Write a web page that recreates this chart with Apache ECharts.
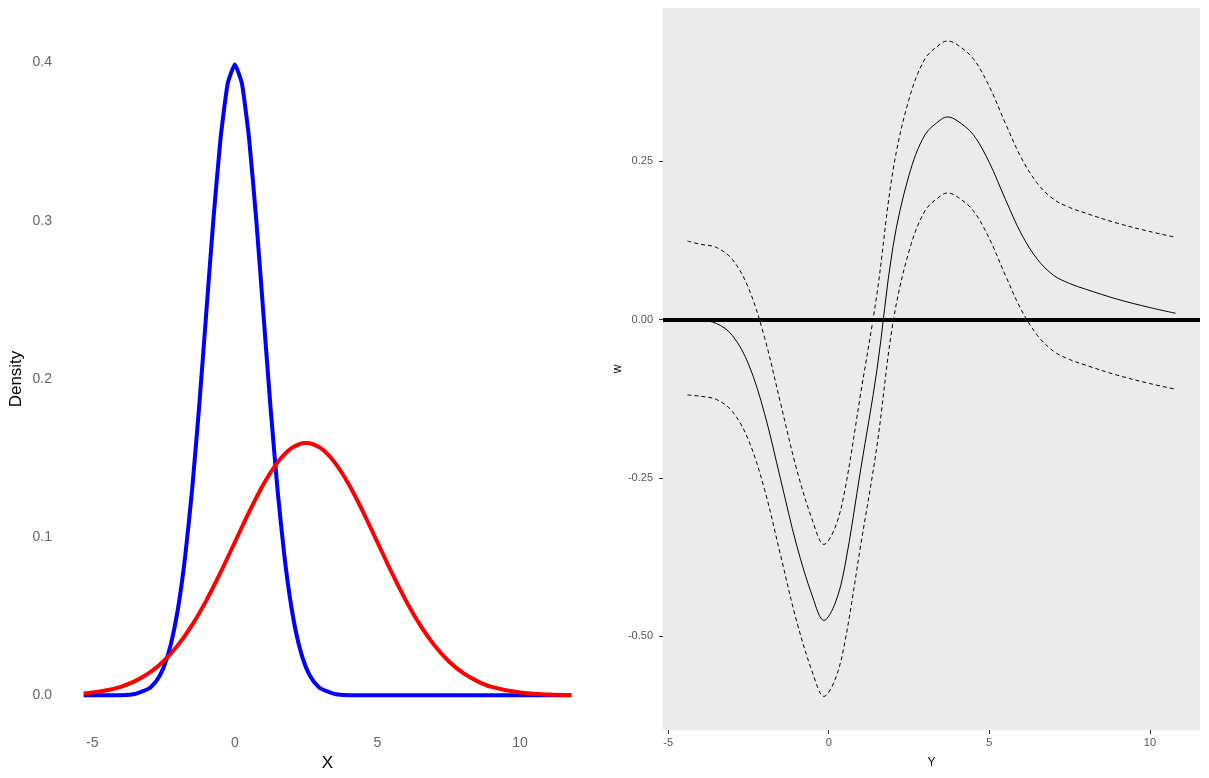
<!DOCTYPE html>
<html>
<head>
<meta charset="utf-8">
<title>Density and w</title>
<script src="https://cdn.jsdelivr.net/npm/echarts@6/dist/echarts.min.js"></script>
<style>
	html, body {margin: 0; padding: 0; background: #fff;}
	#chart {width: 1209px; height: 778px;}
</style>
</head>
<body>
<div id="chart"></div>
<script>
	// left panel: two density curves
	const blueX = [-5.3, -4.5, -4, -3.5, -3, -2.75, -2.5, -2.25, -2, -1.75, -1.5, -1.25, -1, -0.75, -0.5, -0.25, 0, 0.25, 0.5, 0.75, 1, 1.25, 1.5, 1.75, 2, 2.25, 2.5, 2.75, 3, 3.5, 4, 4.5, 6, 8, 10, 11.8];
	const blueDensity = [0, 0, 0.0001, 0.0009, 0.0044, 0.0091, 0.0175, 0.0317, 0.0540, 0.0863, 0.1295, 0.1826, 0.2420, 0.3011, 0.3521, 0.3867, 0.3989, 0.3867, 0.3521, 0.3011, 0.2420, 0.1826, 0.1295, 0.0863, 0.0540, 0.0317, 0.0175, 0.0091, 0.0044, 0.0009, 0.0001, 0, 0, 0, 0, 0];
	const redX = [-5.3, -5, -4.5, -4, -3.5, -3, -2.5, -2, -1.5, -1, -0.5, 0, 0.5, 1, 1.5, 2, 2.5, 3, 3.5, 4, 4.5, 5, 5.5, 6, 6.5, 7, 7.5, 8, 8.5, 9, 10, 11, 11.8];
	const redDensity = [0.0012, 0.0018, 0.0032, 0.0054, 0.0090, 0.0142, 0.0216, 0.0316, 0.0444, 0.0599, 0.0777, 0.0968, 0.1159, 0.1333, 0.1473, 0.1564, 0.1596, 0.1564, 0.1473, 0.1333, 0.1159, 0.0968, 0.0777, 0.0599, 0.0444, 0.0316, 0.0216, 0.0142, 0.0090, 0.0054, 0.0018, 0.0005, 0.0002];
	const leftXTicks = [-5, 0, 5, 10];
	const leftYTicks = [0, 0.1, 0.2, 0.3, 0.4];

	// right panel: w with its band
	const wX = [-4.4, -4, -3.5, -3, -2.5, -2, -1.5, -1, -0.5, -0.15, 0.2, 0.5, 1, 1.5, 2, 2.5, 3, 3.5, 3.7, 4, 4.5, 5, 5.5, 6, 6.5, 7, 7.5, 8, 9, 10, 10.8];
	const wMid = [0.000, -0.001, -0.006, -0.025, -0.070, -0.148, -0.252, -0.356, -0.438, -0.475, -0.448, -0.390, -0.235, -0.080, 0.115, 0.228, 0.292, 0.316, 0.320, 0.314, 0.292, 0.248, 0.190, 0.135, 0.095, 0.070, 0.057, 0.048, 0.032, 0.019, 0.010];
	const wUpper = [0.124, 0.119, 0.114, 0.095, 0.050, -0.028, -0.132, -0.236, -0.318, -0.355, -0.328, -0.270, -0.115, 0.040, 0.235, 0.348, 0.412, 0.436, 0.440, 0.434, 0.412, 0.368, 0.310, 0.255, 0.215, 0.190, 0.177, 0.168, 0.152, 0.139, 0.130];
	const wLower = [-0.119, -0.121, -0.126, -0.145, -0.190, -0.268, -0.372, -0.476, -0.558, -0.595, -0.568, -0.510, -0.355, -0.200, -0.005, 0.108, 0.172, 0.196, 0.200, 0.194, 0.172, 0.128, 0.070, 0.015, -0.025, -0.050, -0.063, -0.072, -0.088, -0.101, -0.110];
	const rightXTicks = [-5, 0, 5, 10];
	const rightYTicks = [-0.5, -0.25, 0, 0.25];

	const font = '"Liberation Sans", Arial, sans-serif';
	const zip = (xs, ys) => xs.map((x, i) => [x, ys[i]]);

	const chart = echarts.init(document.getElementById('chart'));
	const option = {
		animation: false,
		backgroundColor: '#ffffff',
		grid: [
			{left: 58, right: 612, top: 31, bottom: 51},
			{left: 663, right: 9, top: 8, bottom: 48, show: true, backgroundColor: '#ebebeb', borderWidth: 0}
		],
		xAxis: [
			{
				gridIndex: 0, type: 'value', min: -6.2, max: 12.7,
				name: 'X', nameLocation: 'middle', nameGap: 27,
				nameTextStyle: {color: '#000', fontSize: 17, fontFamily: font},
				axisLine: {show: false, onZero: false}, axisTick: {show: false}, splitLine: {show: false},
				axisLabel: {customValues: leftXTicks, color: '#666', fontSize: 14, fontFamily: font, margin: 9}
			},
			{
				gridIndex: 1, type: 'value', min: -5.16, max: 11.56,
				name: 'Y', nameLocation: 'middle', nameGap: 27,
				nameTextStyle: {color: '#000', fontSize: 12, fontFamily: font},
				axisLine: {show: false, onZero: false}, splitLine: {show: false},
				axisTick: {show: true, customValues: rightXTicks, length: 4, lineStyle: {color: '#333'}},
				axisLabel: {customValues: rightXTicks, color: '#555', fontSize: 11, fontFamily: font, margin: 7}
			}
		],
		yAxis: [
			{
				gridIndex: 0, type: 'value', min: -0.02, max: 0.42,
				name: 'Density', nameLocation: 'middle', nameGap: 33,
				nameTextStyle: {color: '#000', fontSize: 17, fontFamily: font},
				axisLine: {show: false, onZero: false}, axisTick: {show: false}, splitLine: {show: false},
				axisLabel: {customValues: leftYTicks, color: '#666', fontSize: 14, fontFamily: font, margin: 6,
					formatter: v => v.toFixed(1)}
			},
			{
				gridIndex: 1, type: 'value', min: -0.648, max: 0.492,
				name: 'w', nameLocation: 'middle', nameGap: 38,
				nameTextStyle: {color: '#000', fontSize: 12, fontFamily: font},
				axisLine: {show: false, onZero: false}, splitLine: {show: false},
				axisTick: {show: true, customValues: rightYTicks, length: 4, lineStyle: {color: '#333'}},
				axisLabel: {customValues: rightYTicks, color: '#555', fontSize: 11, fontFamily: font, margin: 10,
					formatter: v => v.toFixed(2)}
			}
		],
		series: [
			{
				type: 'line', xAxisIndex: 0, yAxisIndex: 0, data: zip(blueX, blueDensity),
				showSymbol: false, smooth: 0.15, lineStyle: {color: '#0000ff', width: 4}
			},
			{
				type: 'line', xAxisIndex: 0, yAxisIndex: 0, data: zip(redX, redDensity),
				showSymbol: false, smooth: 0.3, lineStyle: {color: '#ff0000', width: 4}
			},
			{
				type: 'line', xAxisIndex: 1, yAxisIndex: 1, data: zip(wX, wUpper),
				showSymbol: false, smooth: 0.35, lineStyle: {color: '#000', width: 1, type: [4, 3]}
			},
			{
				type: 'line', xAxisIndex: 1, yAxisIndex: 1, data: zip(wX, wLower),
				showSymbol: false, smooth: 0.35, lineStyle: {color: '#000', width: 1, type: [4, 3]}
			},
			{
				type: 'line', xAxisIndex: 1, yAxisIndex: 1, data: zip(wX, wMid),
				showSymbol: false, smooth: 0.35, lineStyle: {color: '#000', width: 1},
				markLine: {
					silent: true, symbol: 'none', label: {show: false},
					lineStyle: {color: '#000', width: 4, type: 'solid'},
					data: [{yAxis: 0}]
				}
			}
		]
	};
	chart.setOption(option);
</script>
</body>
</html>
